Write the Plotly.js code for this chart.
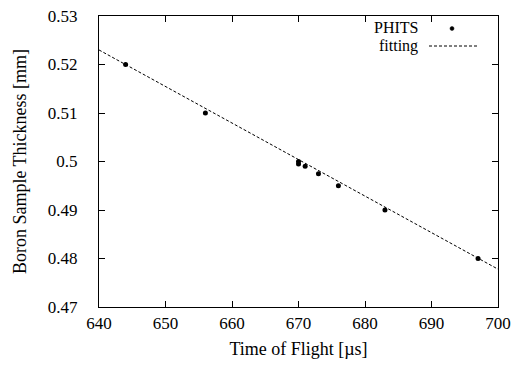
<!DOCTYPE html>
<html><head><meta charset="utf-8">
<script src="https://cdn.plot.ly/plotly-3.0.1.min.js"></script>
<style>html,body{margin:0;padding:0;background:#fff}</style>
</head><body>
<div id="chart" style="width:514px;height:367px"></div>
<script>
const timeOfFlight = [644, 656, 670, 670, 671, 673, 676, 683, 697];
const thickness = [0.520, 0.510, 0.500, 0.4995, 0.499, 0.4975, 0.495, 0.490, 0.480];
const fitX = [640, 700];
const fitY = [0.5230, 0.4778];
const xTicks = [640, 650, 660, 670, 680, 690, 700];
const yTicks = [0.47, 0.48, 0.49, 0.50, 0.51, 0.52, 0.53];
const yTickText = ['0.47', '0.48', '0.49', '0.5', '0.51', '0.52', '0.53'];

const FONT = '"Liberation Serif", serif';
const FS = 17;
const TFS = 18;
const LFS = 16;
const L = 99, R = 498, T = 16, B = 307;
const px = x => (x - L) / (R - L);
const py = y => (B - y) / (B - T);

const traces = [
  {x: fitX, y: fitY, mode: 'lines', name: 'fitting',
   line: {color: '#000', width: 1, dash: '3px,2px'}, hoverinfo: 'skip'},
  {x: timeOfFlight, y: thickness, mode: 'markers', name: 'PHITS',
   marker: {color: '#000', size: 5}}
];

const axisCommon = {
  showgrid: false, zeroline: false, showline: true, linecolor: '#000', linewidth: 1,
  mirror: 'allticks', ticks: 'inside', ticklen: 6, tickcolor: '#000', tickwidth: 1,
  tickfont: {family: FONT, size: FS, color: '#000'}
};

const layout = {
  width: 514, height: 367,
  margin: {l: L, r: 514 - R, t: T, b: 367 - B},
  paper_bgcolor: '#fff', plot_bgcolor: '#fff',
  showlegend: false,
  font: {family: FONT, size: FS, color: '#000'},
  xaxis: Object.assign({}, axisCommon, {
    range: [640, 700], tickvals: xTicks, ticktext: xTicks.map(String),
    ticklabelstandoff: 1,
    title: {text: 'Time of Flight [µs]', font: {family: FONT, size: TFS, color: '#000'}, standoff: 9}
  }),
  yaxis: Object.assign({}, axisCommon, {
    range: [0.47, 0.53], tickvals: yTicks, ticktext: yTickText,
    ticklabelstandoff: 17,
    title: {text: 'Boron Sample Thickness [mm]', font: {family: FONT, size: TFS, color: '#000'}, standoff: 16}
  }),
  annotations: [
    {xref: 'paper', yref: 'paper', x: px(419), y: py(27.5), xanchor: 'right', yanchor: 'middle',
     text: 'PHITS', showarrow: false, borderpad: 0,
     font: {family: FONT, size: LFS, color: '#000'}},
    {xref: 'paper', yref: 'paper', x: px(419), y: py(46), xanchor: 'right', yanchor: 'middle',
     text: 'fitting', showarrow: false, borderpad: 0,
     font: {family: FONT, size: LFS, color: '#000'}}
  ],
  shapes: [
    {type: 'line', xref: 'paper', yref: 'paper', x0: px(429), x1: px(477), y0: py(46), y1: py(46),
     line: {color: '#000', width: 1, dash: '3px,2px'}},
    {type: 'circle', xref: 'paper', yref: 'paper', x0: px(450), x1: px(454), y0: py(26.5), y1: py(30.5),
     fillcolor: '#000', line: {color: '#000', width: 0.5}}
  ]
};

Plotly.newPlot('chart', traces, layout, {displayModeBar: false, staticPlot: true});
</script>
</body></html>
